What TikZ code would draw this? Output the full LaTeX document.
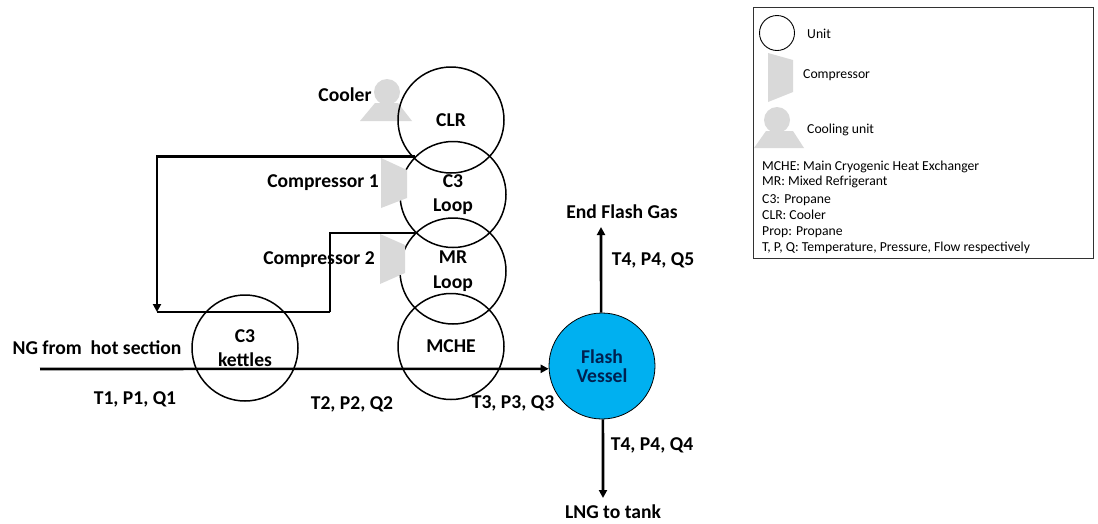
\documentclass[tikz,border=0pt]{standalone}
\usepackage{fontspec}
\setmainfont{Carlito}
\usetikzlibrary{arrows.meta,positioning}
\definecolor{flashblue}{RGB}{0,176,240}
\definecolor{flashtext}{RGB}{0,32,80}
\definecolor{partgray}{RGB}{217,217,217}
\definecolor{legendline}{RGB}{50,50,50}

\begin{document}
\begin{tikzpicture}[
    x=1pt, y=-1pt,
    >={Triangle[length=8pt,width=8pt]},
    unit/.style={circle, draw, line width=1.5pt, minimum size=106pt, inner sep=0pt, align=center, font=\bfseries\fontsize{19.6}{24.5}\selectfont},
    lbl/.style={inner sep=0pt, font=\bfseries\fontsize{19.6}{22}\selectfont},
    keytext/.style={anchor=west, inner sep=0pt, font=\fontsize{13.7}{15}\selectfont},
    part/.style={fill=partgray, draw=none},
    stream/.style={line width=2.6pt}
]
\useasboundingbox (0,0) rectangle (1098,523);

\fill[part] (387,92) circle (13);
\fill[part] (375,103) -- (398,103) -- (412,121) -- (360,121) -- cycle;

\node[unit] (clr) at (451,120) {CLR};
\node[unit, below=-33pt of clr, xshift=2pt] (c3loop) {C3\\Loop};
\node[unit, below=-31pt of c3loop] (mrloop) {MR\\Loop};
\node[unit, below=-32pt of mrloop, xshift=-2pt] (mche) {MCHE};
\node[unit] (kettles) at (245,348) {C3\\kettles};
\node[unit, fill=flashblue, line width=0.8pt, font=\bfseries\fontsize{19.6}{19.5}\selectfont, text=flashtext] (flash) at (602,366) {Flash\\Vessel};

\node[lbl] (cooler) at (345,95) {Cooler};
\node[lbl] (comp1) at (323,183) {Compressor 1};
\node[lbl] (comp2) at (319,260) {Compressor 2};
\node[lbl] (ngtext) at (97,348) {NG from\ \ hot section};
\node[lbl] (t1) at (135,399) {T1, P1, Q1};
\node[lbl] (t2) at (352,404) {T2, P2, Q2};
\node[lbl] (t3) at (513,403) {T3, P3, Q3};
\node[lbl] (t5) at (653,260) {T4, P4, Q5};
\node[lbl] (t4) at (652,445) {T4, P4, Q4};
\node[lbl] (efg) at (622,212) {End Flash Gas};
\node[lbl] (lng) at (613,512) {LNG to tank};

\coordinate (ngin) at (40,369);
\coordinate (loopend) at (157,312);
\coordinate (mrbend) at (330,312);
\coordinate (efgtip) at (601,227);
\coordinate (lngtip) at (603,498);

\draw[->, stream] (c3loop.135) -| (loopend);
\draw[line width=1.9pt] (mrloop.135) -| (mrbend);
\draw[stream] (mrbend) -- (loopend);
\draw[->, stream] (ngin) -- (flash.183);
\draw[->, stream] (flash.91) -- (efgtip);
\draw[->, stream] (flash.271) -- (lngtip);

\fill[part] (381,158) -- (407,170) -- (407,198) -- (381,208) -- cycle;
\fill[part] (380,234) -- (405,245) -- (405,273) -- (380,284) -- cycle;

\node[draw=legendline, line width=1pt, minimum width=340pt, minimum height=251pt, inner sep=0pt] (legend) at (923,133) {};
\node[circle, draw, line width=0.9pt, minimum size=35pt, inner sep=0pt] (keyunit) at (777,33) {};
\fill[part] (768,53) -- (793,60) -- (793,92) -- (768,102) -- cycle;
\fill[part] (777,120) circle (13);
\fill[part] (766,131) -- (793,131) -- (804,148) -- (754,148) -- cycle;
\node[keytext] (keyunittext) at (807,34) {Unit};
\node[keytext] (keycomp) at (803,75) {Compressor};
\node[keytext] (keycool) at (807,130) {Cooling unit};
\node[keytext] (key1) at (762,167) {MCHE: Main Cryogenic Heat Exchanger};
\node[keytext] (key2) at (762,182) {MR: Mixed Refrigerant};
\node[keytext] (key3) at (762,200) {C3: Propane};
\node[keytext] (key4) at (762,215) {CLR: Cooler};
\node[keytext] (key5) at (762,232) {Prop: Propane};
\node[keytext] (key6) at (762,248) {T, P, Q: Temperature, Pressure, Flow respectively};

\end{tikzpicture}
\end{document}
